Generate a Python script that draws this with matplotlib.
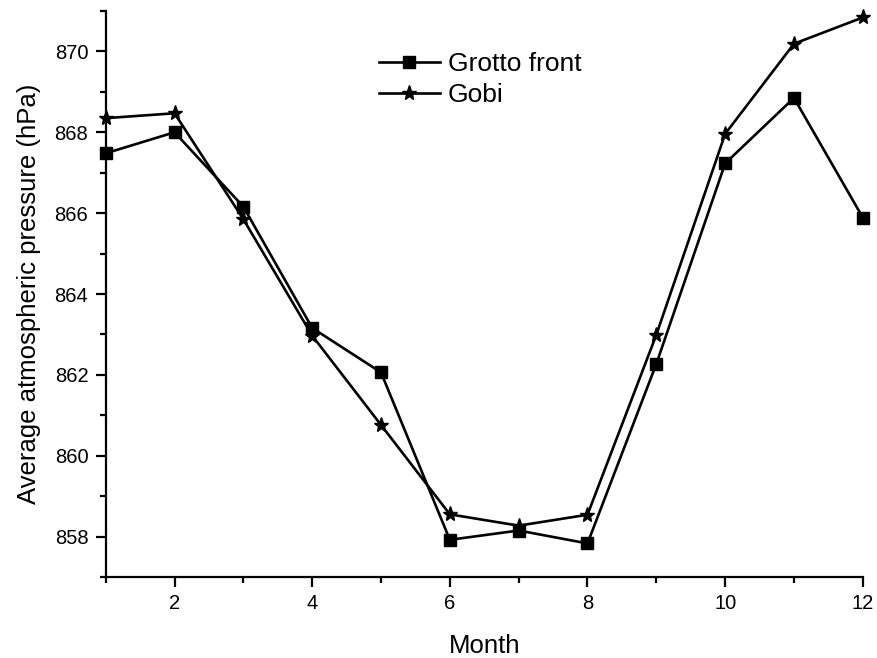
import matplotlib
matplotlib.use('Agg')
import matplotlib.pyplot as plt
from matplotlib.ticker import MultipleLocator

plt.rcParams['font.family'] = ['Liberation Sans', 'DejaVu Sans']

# monthly mean pressure, hPa
months = [1, 2, 3, 4, 5, 6, 7, 8, 9, 10, 11, 12]
grotto_front = [867.48, 868.00, 866.16, 863.16, 862.06, 857.92,
                858.15, 857.83, 862.27, 867.23, 868.85, 865.89]
gobi = [868.35, 868.47, 865.85, 862.97, 860.76, 858.55,
        858.27, 858.54, 862.99, 867.96, 870.19, 870.84]

fig = plt.figure(figsize=(8.77, 6.58), dpi=100)
ax = fig.add_axes([105.7 / 877, 1 - 577 / 658, (862.8 - 105.7) / 877, (577 - 11) / 658])

ax.plot(months, grotto_front, color='black', lw=1.9, marker='s', ms=8.5,
        label='Grotto front', clip_on=False, zorder=3)
ax.plot(months, gobi, color='black', lw=1.9, marker='*', ms=11,
        label='Gobi', clip_on=False, zorder=3)

ax.set_xlim(1, 12)
ax.set_ylim(857, 871)
ax.xaxis.set_major_locator(MultipleLocator(2))
ax.xaxis.set_minor_locator(MultipleLocator(1))
ax.yaxis.set_major_locator(MultipleLocator(2))
ax.yaxis.set_minor_locator(MultipleLocator(1))

for side in ['top', 'right']:
    ax.spines[side].set_visible(False)
for side in ['left', 'bottom']:
    ax.spines[side].set_linewidth(1.6)

ax.tick_params(which='major', direction='out', length=7.5, width=1.6,
               labelsize=14.5, pad=5)
ax.tick_params(which='minor', direction='out', length=4, width=1.6)

ax.set_xlabel('Month', fontsize=18.5, labelpad=15)
ax.set_ylabel('Average atmospheric pressure (hPa)', fontsize=18.5, labelpad=10)

ax.legend(loc='upper left', bbox_to_anchor=(0.361, 0.927), frameon=False,
          fontsize=19, borderpad=0, borderaxespad=0, handlelength=2.3,
          handletextpad=0.3, labelspacing=0.26)

fig.savefig('out.png', dpi=100)
